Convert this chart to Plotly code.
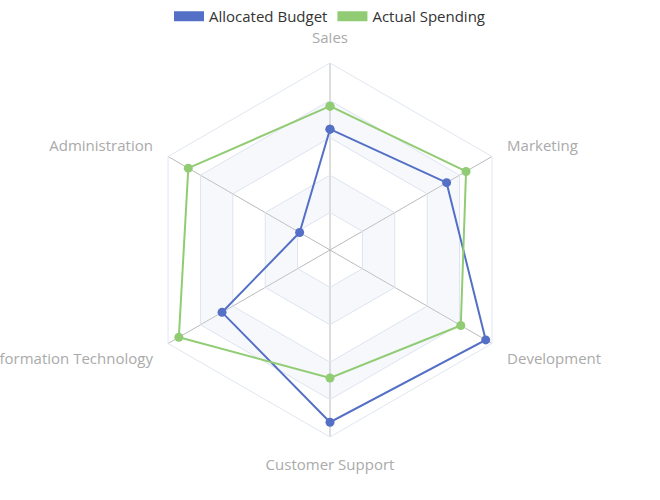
import plotly.graph_objects as go

indicators = ["Sales", "Administration", "Information Technology",
              "Customer Support", "Development", "Marketing"]
max_values = [6500, 16000, 30000, 38000, 52000, 25000]
allocated_budget = [4200, 3000, 20000, 35000, 50000, 18000]
actual_spending = [5000, 14000, 28000, 26000, 42000, 21000]

series = [
    ("Allocated Budget", allocated_budget, "#5470c6"),
    ("Actual Spending", actual_spending, "#91cc75"),
]
levels = [0.2, 0.4, 0.6, 0.8, 1.0]

fig = go.Figure()
theta_closed = indicators + [indicators[0]]

# alternating split areas (bands 0.2-0.4 and 0.6-0.8)
for inner, outer in [(0.6, 0.8), (0.2, 0.4)]:
    fig.add_trace(go.Scatterpolar(r=[inner] * 7, theta=theta_closed, mode="lines",
                                  line=dict(width=0), hoverinfo="skip", showlegend=False))
    fig.add_trace(go.Scatterpolar(r=[outer] * 7, theta=theta_closed, mode="lines",
                                  line=dict(width=0), fill="tonext",
                                  fillcolor="rgba(210,219,238,0.2)",
                                  hoverinfo="skip", showlegend=False))

for name, vals, color in series:
    r = [v / m for v, m in zip(vals, max_values)]
    fig.add_trace(go.Scatterpolar(
        r=r + [r[0]], theta=theta_closed, name=name, mode="lines+markers",
        line=dict(color=color, width=2),
        marker=dict(color=color, size=9),
        showlegend=False,
    ))
    # legend entry (thick bar icon)
    fig.add_trace(go.Scatterpolar(
        r=[None], theta=[indicators[0]], name=name, mode="lines",
        line=dict(color=color, width=16), showlegend=True,
    ))

R = 187
cx, cy = 330, 250
W, H = 660, 500
fig.update_layout(
    width=W, height=H,
    margin=dict(l=0, r=0, t=0, b=0),
    paper_bgcolor="white",
    font=dict(family="Open Sans, Noto Sans, sans-serif"),
    showlegend=True,
    legend=dict(orientation="h", x=0.5, xanchor="center", y=1.0, yanchor="top",
                font=dict(size=15, color="#333333"), itemwidth=30,
                traceorder="normal"),
    polar=dict(
        domain=dict(x=[(cx - R) / W, (cx + R) / W],
                    y=[(H - cy - R) / H, (H - cy + R) / H]),
        gridshape="linear",
        bgcolor="rgba(0,0,0,0)",
        radialaxis=dict(range=[0, 1], tickvals=levels, showticklabels=False,
                        showline=False, ticks="", gridcolor="#e0e6f1", gridwidth=1),
        angularaxis=dict(direction="counterclockwise", rotation=90,
                         categoryarray=indicators, categoryorder="array",
                         gridcolor="#bbbbbb", linecolor="#e0e6f1", linewidth=1,
                         ticks="outside", ticklen=14, tickcolor="rgba(0,0,0,0)",
                         tickfont=dict(size=15, color="#aaaaaa")),
    ),
)

fig.write_html("out.html")
